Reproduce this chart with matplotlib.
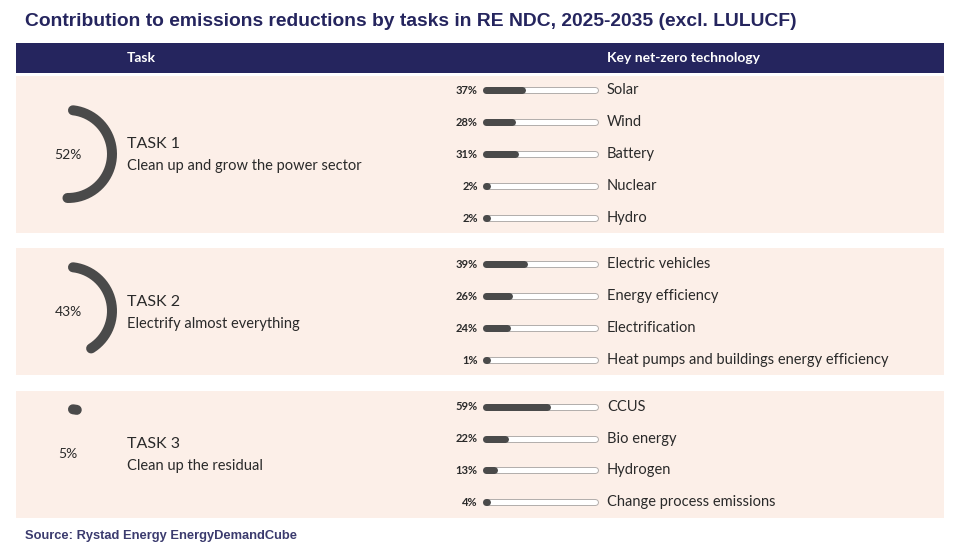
import numpy as np
import matplotlib
matplotlib.use("Agg")
import matplotlib.pyplot as plt
from matplotlib.patches import Rectangle

# ---------------- data ----------------
task_names = ["TASK 1", "TASK 2", "TASK 3"]
task_desc = ["Clean up and grow the power sector", "Electrify almost everything", "Clean up the residual"]
task_share = [52, 43, 5]

tech1 = ["Solar", "Wind", "Battery", "Nuclear", "Hydro"]
vals1 = [37, 28, 31, 2, 2]
tech2 = ["Electric vehicles", "Energy efficiency", "Electrification", "Heat pumps and buildings energy efficiency"]
vals2 = [39, 26, 24, 1]
tech3 = ["CCUS", "Bio energy", "Hydrogen", "Change process emissions"]
vals3 = [59, 22, 13, 4]

title = "Contribution to emissions reductions by tasks in RE NDC, 2025-2035 (excl. LULUCF)"
source = "Source: Rystad Energy EnergyDemandCube"

# ---------------- style ----------------
W, H = 958, 555
NAVY = "#25255e"
PANEL = "#fcefe8"
DARK = "#4a4a4a"
TRACK = "#b3afad"
TXT = "#2a2a2a"
BODY = ["Lato", "DejaVu Sans"]

fig = plt.figure(figsize=(W / 100, H / 100), dpi=100)
fig.patch.set_facecolor("white")
ax = fig.add_axes([0, 0, 1, 1])
ax.set_xlim(0, W)
ax.set_ylim(H, 0)
ax.axis("off")

px = 0.72  # points per pixel at 100 dpi

# title
ax.text(25, 22, title, fontsize=13.85, fontweight="black", color=NAVY,
        family=["Liberation Sans", "DejaVu Sans"], va="center", ha="left")

# header band
ax.add_patch(Rectangle((16, 43), 928, 30, facecolor=NAVY, edgecolor="none"))
ax.text(127, 58, "Task", fontsize=10, fontweight="bold", color="white", family=BODY, va="center")
ax.text(607, 58, "Key net-zero technology", fontsize=10, fontweight="bold", color="white",
        family=BODY, va="center")

# panel layout (pixels)
panels = [
    dict(top=76, bot=233, rows=[90, 122, 154, 186, 218], cy=154, ty=144),
    dict(top=248, bot=375, rows=[264, 296, 328, 360], cy=311, ty=302),
    dict(top=391, bot=518, rows=[407, 438, 470, 502], cy=453, ty=444),
]
techs = [tech1, tech2, tech3]
vals = [vals1, vals2, vals3]

BAR_X0, BAR_X1 = 483, 598
BAR_H = 7            # px
R = 44
CX = 68
RING_W = 10          # px
cap_deg = np.degrees((RING_W / 2) / R)

for i, p in enumerate(panels):
    ax.add_patch(Rectangle((16, p["top"]), 928, p["bot"] - p["top"], facecolor=PANEL,
                           edgecolor="none", zorder=0))
    # donut arc: starts at top, clockwise, share of full circle (round caps inside the extent)
    share = task_share[i]
    a0 = 90 - cap_deg
    a1 = min(90 - 360 * share / 100 + cap_deg, a0 - 0.5)
    th = np.deg2rad(np.linspace(a0, a1, 200))
    ax.plot(CX + R * np.cos(th), p["cy"] - R * np.sin(th), color=DARK, lw=RING_W * px,
            solid_capstyle="round", zorder=3)
    ax.text(CX, p["cy"] + 1, f"{share}%", fontsize=10, color=TXT, family=BODY,
            ha="center", va="center")
    ax.text(127, p["ty"], task_names[i], fontsize=11.5, color=TXT, family=BODY, va="center")
    ax.text(127, p["ty"] + 22, task_desc[i], fontsize=10.5, color=TXT, family=BODY, va="center")

    # bar axes for this panel: x in percent
    rows = p["rows"]
    n = len(rows)
    step = (rows[-1] - rows[0]) / (n - 1)
    y_top = rows[0] - step / 2
    y_bot = rows[-1] + step / 2
    bax = fig.add_axes([BAR_X0 / W, 1 - y_bot / H, (BAR_X1 - BAR_X0) / W, (y_bot - y_top) / H])
    bax.set_xlim(0, 100)
    bax.set_ylim(n - 0.5, -0.5)
    bax.axis("off")
    bax.patch.set_alpha(0)
    rc = (BAR_H / 2) * 100 / (BAR_X1 - BAR_X0)   # cap radius in percent units
    for j, (name, v) in enumerate(zip(techs[i], vals[i])):
        bax.plot([rc, 100 - rc], [j, j], color=TRACK, lw=BAR_H * px, solid_capstyle="round",
                 clip_on=False)
        bax.plot([rc, 100 - rc], [j, j], color="white", lw=(BAR_H - 2) * px,
                 solid_capstyle="round", clip_on=False)
        bax.plot([rc, max(v - rc, rc + 0.05)], [j, j], color=DARK, lw=BAR_H * px,
                 solid_capstyle="round", clip_on=False)
        bax.text(-4.5, j, f"{v}%", fontsize=8, fontweight="bold", color=TXT, family=BODY,
                 ha="right", va="center")
        bax.text(107.8, j, name, fontsize=10.5, color=TXT, family=BODY, ha="left", va="center")

ax.text(25, 536, source, fontsize=9.3, fontweight="bold", color=NAVY,
        family=["Liberation Sans", "DejaVu Sans"], va="center", ha="left", alpha=0.9)

fig.savefig("out.png", dpi=100, facecolor="white")
